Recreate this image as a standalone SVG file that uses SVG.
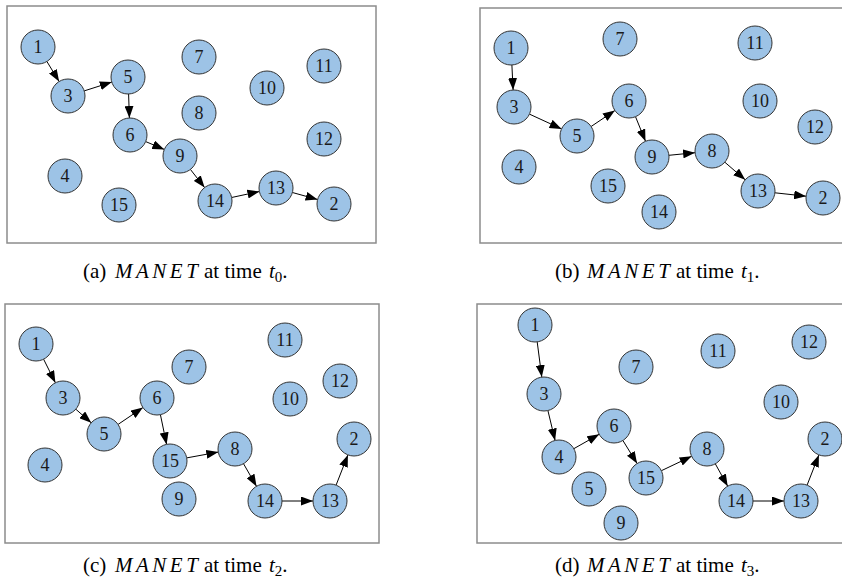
<svg xmlns="http://www.w3.org/2000/svg" width="842" height="585" viewBox="0 0 842 585">
<style>
.frame{fill:none;stroke:#8c8c8c;stroke-width:1.5}
.node circle{fill:#9dc3e6;stroke:#333;stroke-width:1}
.node text{font-family:"Liberation Serif","Times New Roman",serif;font-size:18px;fill:#1a1a1a;text-anchor:middle;dominant-baseline:central}
.edge{stroke:#000;stroke-width:1;fill:none;marker-end:url(#ah)}
.cap{font-family:"Liberation Serif","Times New Roman",serif;font-size:21px;fill:#000}
.it{font-style:italic}
</style>
<defs>
<marker id="ah" markerUnits="userSpaceOnUse" markerWidth="12" markerHeight="9" viewBox="0 0 12 9" refX="12" refY="4.5" orient="auto">
<path d="M0,0 L12,4.5 L0,9 z" fill="#000"/>
</marker>
</defs>
<rect fill="#fff" x="0" y="0" width="842" height="585"/>
<g id="frames">
<rect class="frame" x="7" y="6" width="369" height="237"/>
<rect class="frame" x="480" y="8" width="370" height="235"/>
<rect class="frame" x="5" y="304" width="374" height="239"/>
<rect class="frame" x="477" y="304" width="375" height="239"/>
</g>
<g id="connectors">
<line class="edge" x1="46.9" y1="61.5" x2="59.1" y2="81.5"/>
<line class="edge" x1="84.2" y1="90.9" x2="111.8" y2="82.1"/>
<line class="edge" x1="128.6" y1="94" x2="129.4" y2="118"/>
<line class="edge" x1="145.7" y1="141.6" x2="164.3" y2="149.4"/>
<line class="edge" x1="190.4" y1="169.4" x2="204.6" y2="187.6"/>
<line class="edge" x1="231.6" y1="197.5" x2="259.4" y2="191.5"/>
<line class="edge" x1="292.4" y1="192.5" x2="317.6" y2="199.5"/>

<line class="edge" x1="511.9" y1="65" x2="513.1" y2="90"/>
<line class="edge" x1="529.4" y1="114.1" x2="561.6" y2="128.9"/>
<line class="edge" x1="591.1" y1="126.5" x2="614.9" y2="110.5"/>
<line class="edge" x1="635.5" y1="116.7" x2="645.5" y2="141.3"/>
<line class="edge" x1="668.9" y1="155.3" x2="695.1" y2="152.7"/>
<line class="edge" x1="724.8" y1="162.2" x2="745.2" y2="179.8"/>
<line class="edge" x1="774.9" y1="192.8" x2="806.1" y2="196.2"/>

<line class="edge" x1="43.6" y1="359.2" x2="55.4" y2="382.8"/>
<line class="edge" x1="75.8" y1="409.2" x2="91.2" y2="422.8"/>
<line class="edge" x1="118.1" y1="424.4" x2="142.9" y2="407.6"/>
<line class="edge" x1="160.4" y1="414.6" x2="166.6" y2="444.4"/>
<line class="edge" x1="186.7" y1="457.9" x2="218.3" y2="452.1"/>
<line class="edge" x1="243.5" y1="463.7" x2="256.5" y2="486.3"/>
<line class="edge" x1="282" y1="501" x2="313" y2="501"/>
<line class="edge" x1="336.1" y1="485.1" x2="347.9" y2="454.9"/>

<line class="edge" x1="537.2" y1="341.9" x2="541.8" y2="377.1"/>
<line class="edge" x1="547.9" y1="410.5" x2="555.1" y2="440.5"/>
<line class="edge" x1="573.8" y1="448.7" x2="599.2" y2="434.3"/>
<line class="edge" x1="622.9" y1="440.5" x2="637.1" y2="463.5"/>
<line class="edge" x1="661.4" y1="470.7" x2="691.6" y2="456.3"/>
<line class="edge" x1="715.3" y1="463.8" x2="727.7" y2="486.2"/>
<line class="edge" x1="753" y1="501" x2="784" y2="501"/>
<line class="edge" x1="807.1" y1="485.1" x2="818.9" y2="454.9"/>
</g>
<g id="panel-a">
<g id="a-n1" class="node"><circle cx="38" cy="47" r="17"/><text x="38" y="47">1</text></g>
<g id="a-n3" class="node"><circle cx="68" cy="96" r="17"/><text x="68" y="96">3</text></g>
<g id="a-n5" class="node"><circle cx="128" cy="77" r="17"/><text x="128" y="77">5</text></g>
<g id="a-n7" class="node"><circle cx="199" cy="57" r="17"/><text x="199" y="57">7</text></g>
<g id="a-n11" class="node"><circle cx="324" cy="66" r="17"/><text x="324" y="66">11</text></g>
<g id="a-n10" class="node"><circle cx="267" cy="88" r="17"/><text x="267" y="88">10</text></g>
<g id="a-n8" class="node"><circle cx="199" cy="113" r="17"/><text x="199" y="113">8</text></g>
<g id="a-n6" class="node"><circle cx="130" cy="135" r="17"/><text x="130" y="135">6</text></g>
<g id="a-n9" class="node"><circle cx="180" cy="156" r="17"/><text x="180" y="156">9</text></g>
<g id="a-n12" class="node"><circle cx="324" cy="139" r="17"/><text x="324" y="139">12</text></g>
<g id="a-n4" class="node"><circle cx="65" cy="176" r="17"/><text x="65" y="176">4</text></g>
<g id="a-n15" class="node"><circle cx="119" cy="205" r="17"/><text x="119" y="205">15</text></g>
<g id="a-n14" class="node"><circle cx="215" cy="201" r="17"/><text x="215" y="201">14</text></g>
<g id="a-n13" class="node"><circle cx="276" cy="188" r="17"/><text x="276" y="188">13</text></g>
<g id="a-n2" class="node"><circle cx="334" cy="204" r="17"/><text x="334" y="204">2</text></g>
</g>
<g id="panel-b">
<g id="b-n1" class="node"><circle cx="511" cy="48" r="17"/><text x="511" y="48">1</text></g>
<g id="b-n7" class="node"><circle cx="620" cy="39" r="17"/><text x="620" y="39">7</text></g>
<g id="b-n11" class="node"><circle cx="755" cy="43" r="17"/><text x="755" y="43">11</text></g>
<g id="b-n3" class="node"><circle cx="514" cy="107" r="17"/><text x="514" y="107">3</text></g>
<g id="b-n6" class="node"><circle cx="629" cy="101" r="17"/><text x="629" y="101">6</text></g>
<g id="b-n10" class="node"><circle cx="760" cy="101" r="17"/><text x="760" y="101">10</text></g>
<g id="b-n12" class="node"><circle cx="815" cy="127" r="17"/><text x="815" y="127">12</text></g>
<g id="b-n5" class="node"><circle cx="577" cy="136" r="17"/><text x="577" y="136">5</text></g>
<g id="b-n9" class="node"><circle cx="652" cy="157" r="17"/><text x="652" y="157">9</text></g>
<g id="b-n8" class="node"><circle cx="712" cy="151" r="17"/><text x="712" y="151">8</text></g>
<g id="b-n4" class="node"><circle cx="519" cy="167" r="17"/><text x="519" y="167">4</text></g>
<g id="b-n15" class="node"><circle cx="608" cy="186" r="17"/><text x="608" y="186">15</text></g>
<g id="b-n13" class="node"><circle cx="758" cy="191" r="17"/><text x="758" y="191">13</text></g>
<g id="b-n2" class="node"><circle cx="823" cy="198" r="17"/><text x="823" y="198">2</text></g>
<g id="b-n14" class="node"><circle cx="659" cy="212" r="17"/><text x="659" y="212">14</text></g>
</g>
<g id="panel-c">
<g id="c-n1" class="node"><circle cx="36" cy="344" r="17"/><text x="36" y="344">1</text></g>
<g id="c-n11" class="node"><circle cx="285" cy="340" r="17"/><text x="285" y="340">11</text></g>
<g id="c-n7" class="node"><circle cx="189" cy="367" r="17"/><text x="189" y="367">7</text></g>
<g id="c-n12" class="node"><circle cx="340" cy="381" r="17"/><text x="340" y="381">12</text></g>
<g id="c-n3" class="node"><circle cx="63" cy="398" r="17"/><text x="63" y="398">3</text></g>
<g id="c-n6" class="node"><circle cx="157" cy="398" r="17"/><text x="157" y="398">6</text></g>
<g id="c-n10" class="node"><circle cx="290" cy="399" r="17"/><text x="290" y="399">10</text></g>
<g id="c-n5" class="node"><circle cx="104" cy="434" r="17"/><text x="104" y="434">5</text></g>
<g id="c-n2" class="node"><circle cx="354" cy="439" r="17"/><text x="354" y="439">2</text></g>
<g id="c-n8" class="node"><circle cx="235" cy="449" r="17"/><text x="235" y="449">8</text></g>
<g id="c-n15" class="node"><circle cx="170" cy="461" r="17"/><text x="170" y="461">15</text></g>
<g id="c-n4" class="node"><circle cx="45" cy="465" r="17"/><text x="45" y="465">4</text></g>
<g id="c-n9" class="node"><circle cx="179" cy="499" r="17"/><text x="179" y="499">9</text></g>
<g id="c-n14" class="node"><circle cx="265" cy="501" r="17"/><text x="265" y="501">14</text></g>
<g id="c-n13" class="node"><circle cx="330" cy="501" r="17"/><text x="330" y="501">13</text></g>
</g>
<g id="panel-d">
<g id="d-n1" class="node"><circle cx="535" cy="325" r="17"/><text x="535" y="325">1</text></g>
<g id="d-n12" class="node"><circle cx="809" cy="342" r="17"/><text x="809" y="342">12</text></g>
<g id="d-n11" class="node"><circle cx="718" cy="351" r="17"/><text x="718" y="351">11</text></g>
<g id="d-n7" class="node"><circle cx="636" cy="367" r="17"/><text x="636" y="367">7</text></g>
<g id="d-n3" class="node"><circle cx="544" cy="394" r="17"/><text x="544" y="394">3</text></g>
<g id="d-n10" class="node"><circle cx="781" cy="402" r="17"/><text x="781" y="402">10</text></g>
<g id="d-n6" class="node"><circle cx="614" cy="426" r="17"/><text x="614" y="426">6</text></g>
<g id="d-n2" class="node"><circle cx="825" cy="439" r="17"/><text x="825" y="439">2</text></g>
<g id="d-n8" class="node"><circle cx="707" cy="449" r="17"/><text x="707" y="449">8</text></g>
<g id="d-n4" class="node"><circle cx="559" cy="457" r="17"/><text x="559" y="457">4</text></g>
<g id="d-n15" class="node"><circle cx="646" cy="478" r="17"/><text x="646" y="478">15</text></g>
<g id="d-n5" class="node"><circle cx="589" cy="489" r="17"/><text x="589" y="489">5</text></g>
<g id="d-n14" class="node"><circle cx="736" cy="501" r="17"/><text x="736" y="501">14</text></g>
<g id="d-n13" class="node"><circle cx="801" cy="501" r="17"/><text x="801" y="501">13</text></g>
<g id="d-n9" class="node"><circle cx="621" cy="523" r="17"/><text x="621" y="523">9</text></g>
</g>
<g id="captions">
<text class="cap" y="278"><tspan x="83">(a)</tspan><tspan x="115" class="it" letter-spacing="3.5">MANET</tspan><tspan x="204">at time</tspan><tspan x="269" class="it">t</tspan><tspan font-size="15" dy="4">0</tspan><tspan dy="-4">.</tspan></text>
<text class="cap" y="278"><tspan x="555">(b)</tspan><tspan x="587" class="it" letter-spacing="3.5">MANET</tspan><tspan x="676">at time</tspan><tspan x="741" class="it">t</tspan><tspan font-size="15" dy="4">1</tspan><tspan dy="-4">.</tspan></text>
<text class="cap" y="572"><tspan x="83">(c)</tspan><tspan x="115" class="it" letter-spacing="3.5">MANET</tspan><tspan x="204">at time</tspan><tspan x="269" class="it">t</tspan><tspan font-size="15" dy="4">2</tspan><tspan dy="-4">.</tspan></text>
<text class="cap" y="572"><tspan x="555">(d)</tspan><tspan x="587" class="it" letter-spacing="3.5">MANET</tspan><tspan x="676">at time</tspan><tspan x="741" class="it">t</tspan><tspan font-size="15" dy="4">3</tspan><tspan dy="-4">.</tspan></text>
</g>
</svg>
